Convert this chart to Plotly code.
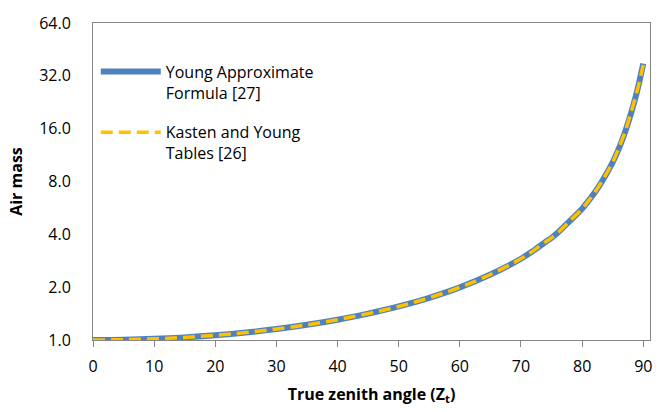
import plotly.graph_objects as go

# True zenith angle (degrees)
zenith = [0, 5, 10, 15, 20, 25, 30, 35, 40, 45, 50, 55, 60, 65, 70, 72, 74, 75, 76, 78,
          80, 81, 82, 83, 84, 85, 86, 87, 88, 89, 90]
# Young approximate formula [27]
young_formula = [1.000, 1.004, 1.015, 1.035, 1.064, 1.103, 1.154, 1.220, 1.305, 1.413,
                 1.553, 1.740, 1.995, 2.361, 2.903, 3.22, 3.62, 3.82, 4.08, 4.77,
                 5.60, 6.18, 6.87, 7.75, 8.88, 10.3, 12.3, 15.2, 19.6, 26.2, 37.5]
# Kasten and Young tables [26]
kasten_young = [1.000, 1.004, 1.015, 1.035, 1.064, 1.103, 1.154, 1.220, 1.305, 1.413,
                1.553, 1.740, 1.995, 2.361, 2.904, 3.22, 3.62, 3.82, 4.08, 4.77,
                5.60, 6.18, 6.88, 7.77, 8.90, 10.3, 12.4, 15.3, 19.8, 26.3, 37.0]

y_ticks = [1, 2, 4, 8, 16, 32, 64]
y_tick_labels = ["1.0", "2.0", "4.0", "8.0", "16.0", "32.0", "64.0"]
x_ticks = [0, 10, 20, 30, 40, 50, 60, 70, 80, 90]

FONT = "Open Sans"
GREY = "#868686"

fig = go.Figure()
fig.add_trace(go.Scatter(
    x=zenith, y=young_formula, mode="lines",
    name="Young Approximate<br>Formula [27]", legendgroup="a",
    line=dict(color="#4F81BD", width=6, shape="spline"),
))
fig.add_trace(go.Scatter(
    x=zenith, y=kasten_young, mode="lines",
    name="Kasten and Young<br>Tables [26]", legendgroup="b",
    line=dict(color="#FFC000", width=3.5, dash="12px,6px", shape="spline"),
))

fig.update_layout(
    width=664, height=412,
    margin=dict(l=93, r=14, t=21, b=68),
    paper_bgcolor="white", plot_bgcolor="white",
    font=dict(family=FONT, size=16, color="black"),
    showlegend=True,
    legend=dict(
        x=0.005, y=0.90, xanchor="left", yanchor="top",
        bgcolor="rgba(0,0,0,0)", itemwidth=60, valign="top",
        tracegroupgap=16, font=dict(family=FONT, size=16, color="black"),
    ),
    xaxis=dict(
        range=[0, 91.1], tickvals=x_ticks, showgrid=False, zeroline=False,
        showline=True, linecolor=GREY, linewidth=1, mirror=True,
        ticks="outside", ticklen=6, tickcolor=GREY, ticklabelstandoff=6,
        title=dict(text="<b>True zenith angle (Z<sub>t</sub>)</b>", font=dict(size=16), standoff=12),
    ),
    yaxis=dict(
        type="log", range=[0, 1.80618], tickvals=y_ticks, ticktext=y_tick_labels,
        showgrid=False, zeroline=False,
        showline=True, linecolor=GREY, linewidth=1, mirror=True,
        ticks="", ticklabelstandoff=18,
        title=dict(text="<b>Air mass</b>", font=dict(size=16), standoff=12),
    ),
)

fig.write_html("out.html")
